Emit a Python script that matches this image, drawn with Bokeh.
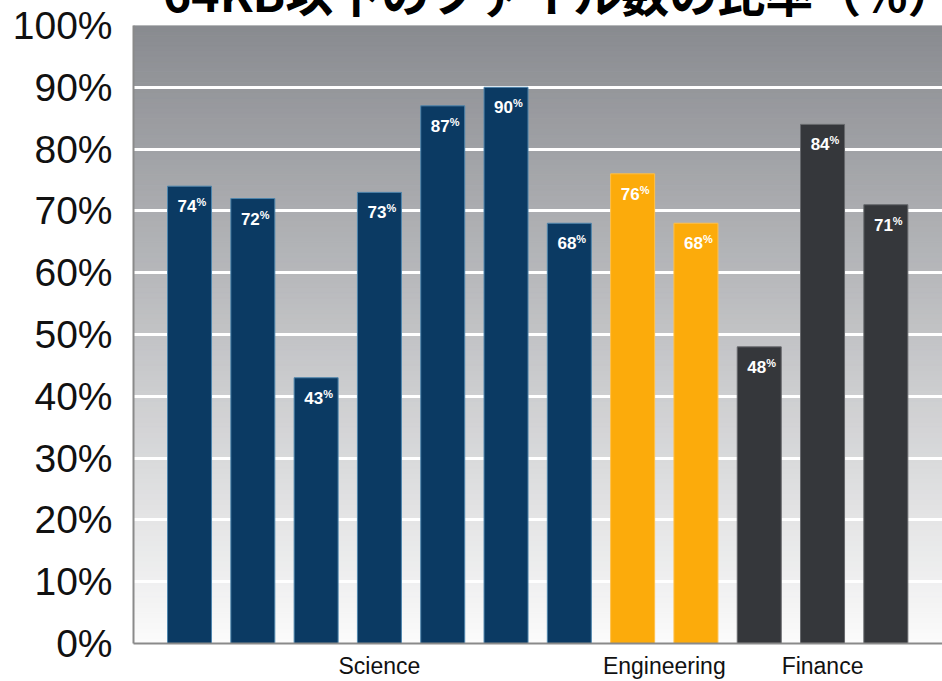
import numpy as np
from bokeh.plotting import figure
from bokeh.layouts import column
from bokeh.models import (Range1d, FixedTicker, PrintfTickFormatter, Div,
                          ColumnDataSource)
from bokeh.core.properties import value
from bokeh.embed import file_html
from bokeh.resources import INLINE

# ---- data ----
title_text = "64KB以下のファイル数の比率（%）"
groups = ["Science", "Engineering", "Finance"]
bar_groups = ["Science"] * 7 + ["Engineering"] * 2 + ["Finance"] * 3
values = [74, 72, 43, 73, 87, 90, 68, 76, 68, 48, 84, 71]
y_ticks = [0, 10, 20, 30, 40, 50, 60, 70, 80, 90, 100]

# ---- styles ----
group_colors = {"Science": "#0b3a63", "Engineering": "#fcab0b", "Finance": "#35373b"}
group_edges = {"Science": "#4f86ad", "Engineering": "#ffc04a", "Finance": "#66686c"}

X0, X1 = -0.885, 11.895

xs = list(range(len(values)))
src = ColumnDataSource(dict(
    x=xs,
    top=values,
    color=[group_colors[g] for g in bar_groups],
    edge=[group_edges[g] for g in bar_groups],
    num=[str(v) for v in values],
    pct=["%"] * len(values),
))

p = figure(width=942, height=681, output_backend="svg", toolbar_location=None,
           x_range=Range1d(X0, X1), y_range=Range1d(0, 100),
           min_border_left=133, min_border_right=0, min_border_top=25,
           min_border_bottom=38, background_fill_color="white",
           border_fill_color=None)
p.outline_line_color = None

# gradient background (styling)
n = 120
edges = np.linspace(0, 100, n + 1)
top_c = np.array([137, 139, 144])
bot_c = np.array([251, 251, 251])
cols = []
for i in range(n):
    t = (edges[i] + edges[i + 1]) / 200.0
    c = bot_c + (top_c - bot_c) * t
    cols.append("#%02x%02x%02x" % tuple(int(round(v)) for v in c))
bg = p.quad(left=X0, right=X1, bottom=edges[:-1], top=edges[1:],
            fill_color=cols, line_color=cols, line_width=1)
bg.level = "image"

p.vbar(x="x", top="top", bottom=0, width=0.695, source=src,
       fill_color="color", line_color="edge", line_width=1)

p.text(x="x", y="top", text="num", source=src, text_align="right",
       text_baseline="alphabetic", x_offset=7, y_offset=20,
       text_font=value("Liberation Sans"), text_font_style="bold",
       text_font_size="17px", text_color="white")
p.text(x="x", y="top", text="pct", source=src, text_align="left",
       text_baseline="alphabetic", x_offset=7, y_offset=16,
       text_font=value("Liberation Sans"), text_font_style="bold",
       text_font_size="11px", text_color="white")

# grid
p.xgrid.grid_line_color = None
p.ygrid.ticker = FixedTicker(ticks=y_ticks)
p.ygrid.grid_line_color = "white"
p.ygrid.grid_line_width = 3

# y axis
p.yaxis.ticker = FixedTicker(ticks=y_ticks)
p.yaxis.formatter = PrintfTickFormatter(format="%d%%")
p.yaxis.major_label_text_font = "Liberation Sans"
p.yaxis.major_label_text_font_size = "39px"
p.yaxis.major_label_text_color = "#111111"
p.yaxis.major_tick_line_color = None
p.yaxis.minor_tick_line_color = None
p.yaxis.axis_line_color = "#8a8a8a"
p.yaxis.axis_line_width = 2
p.yaxis.major_label_standoff = 15

# x axis: group labels at group centres
centers = [float(np.mean([i for i, g in enumerate(bar_groups) if g == grp])) for grp in groups]
p.xaxis.ticker = FixedTicker(ticks=centers)
p.xaxis.major_label_overrides = {c: g for c, g in zip(centers, groups)}
p.xaxis.major_label_text_font = "Liberation Sans"
p.xaxis.major_label_text_font_size = "23px"
p.xaxis.major_label_text_color = "#111111"
p.xaxis.major_label_standoff = 9
p.xaxis.major_tick_line_color = None
p.xaxis.major_tick_out = 0
p.xaxis.minor_tick_line_color = None
p.xaxis.axis_line_color = "#8a8a8a"
p.xaxis.axis_line_width = 2

# title (its upper part lies above the page, as in the reference);
# a zero-height strip whose text overflows onto the transparent top border
title_div = Div(
    text=('<div style="font-family:\'Noto Sans CJK JP\';font-weight:bold;'
          'font-size:48px;line-height:48px;margin-top:-34px;padding-left:163px;'
          'white-space:nowrap;color:black;">' + title_text + '</div>'),
    width=942, height=0, margin=0,
    styles={"overflow": "visible", "padding": "0", "margin": "0"})

layout = column(title_div, p, spacing=0, margin=0)
open("out.html", "w").write(file_html(layout, INLINE))
